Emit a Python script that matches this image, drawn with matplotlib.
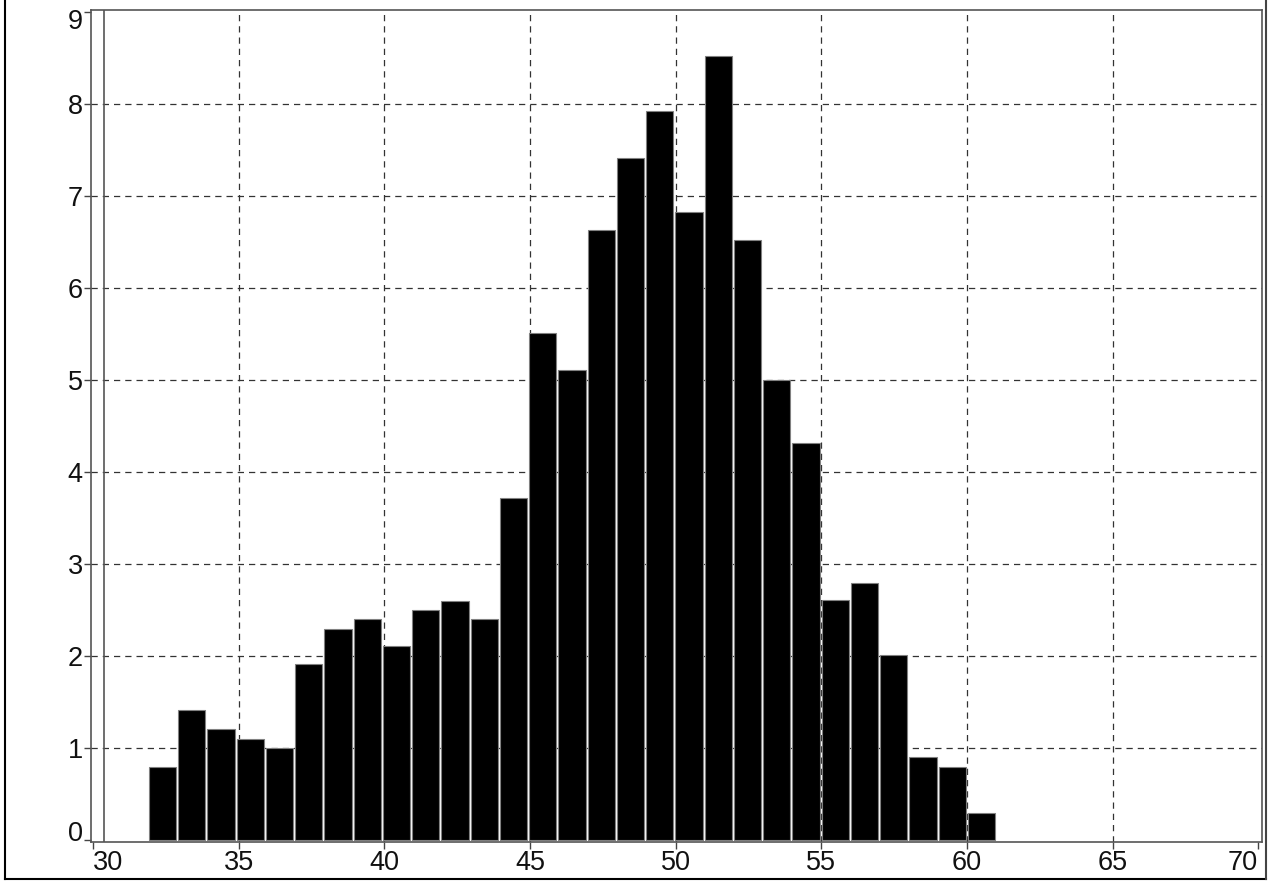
import matplotlib
matplotlib.use("Agg")
import matplotlib.pyplot as plt
from matplotlib.lines import Line2D
from matplotlib.transforms import ScaledTranslation

bin_start = 31.92
bin_width = 1.004
counts = [0.80, 1.41, 1.21, 1.10, 1.00, 1.91, 2.29, 2.40, 2.11, 2.50,
          2.60, 2.40, 3.72, 5.51, 5.11, 6.63, 7.41, 7.92, 6.82, 8.52,
          6.52, 5.00, 4.32, 2.61, 2.79, 2.01, 0.90, 0.80, 0.30]
xticks = [30, 35, 40, 45, 50, 55, 60, 65, 70]
yticks = list(range(0, 10))

plt.rcParams['font.family'] = ['Liberation Sans', 'DejaVu Sans']

fig = plt.figure(figsize=(12.74, 8.81), dpi=100)
ax = fig.add_axes([91/1274, 39/881, (1262-91)/1274, (842-10)/881])

lefts = [bin_start + i * bin_width for i in range(len(counts))]
ax.bar(lefts, counts, width=bin_width * 0.93, align="edge", color="black",
       edgecolor="#808080", linewidth=0.8, zorder=3)

ax.set_xlim(29.93, 70.13)
ax.set_ylim(-0.02, 9.02)
ax.set_xticks(xticks)
ax.set_yticks(yticks)
ax.tick_params(axis="both", labelsize=19.5, length=5, width=1, color="#444444",
               labelcolor="#111111", pad=1)

for xv in xticks[1:-1]:
    ax.axvline(xv, linestyle=(0, (5, 4)), color="#333333", linewidth=0.9, zorder=1)
for yv in yticks[1:-1]:
    ax.axhline(yv, linestyle=(0, (5, 4)), color="#333333", linewidth=0.9, zorder=1)

for s in ax.spines.values():
    s.set_color("#555555")
    s.set_linewidth(1.2)
ax.axvline(30.38, color="#555555", linewidth=1.2, zorder=2)

# nudge the end labels inward like the reference
ylabels = ax.get_yticklabels()
ylabels[0].set_transform(ylabels[0].get_transform() + ScaledTranslation(0, 9/100, fig.dpi_scale_trans))
ylabels[-1].set_transform(ylabels[-1].get_transform() + ScaledTranslation(0, -7/100, fig.dpi_scale_trans))
xlabels = ax.get_xticklabels()
xlabels[0].set_horizontalalignment("left")
xlabels[-1].set_horizontalalignment("right")

# outer frame lines (left, bottom, right)
fig.add_artist(Line2D([4.5/1274, 4.5/1274], [2/881, 1.0], transform=fig.transFigure,
                      color="black", linewidth=1.5))
fig.add_artist(Line2D([4.5/1274, 1266/1274], [2/881, 2/881], transform=fig.transFigure,
                      color="black", linewidth=1.5))
fig.add_artist(Line2D([1266/1274, 1266/1274], [2/881, 1.0], transform=fig.transFigure,
                      color="#444444", linewidth=1.5))

fig.savefig("out.png", dpi=100)
